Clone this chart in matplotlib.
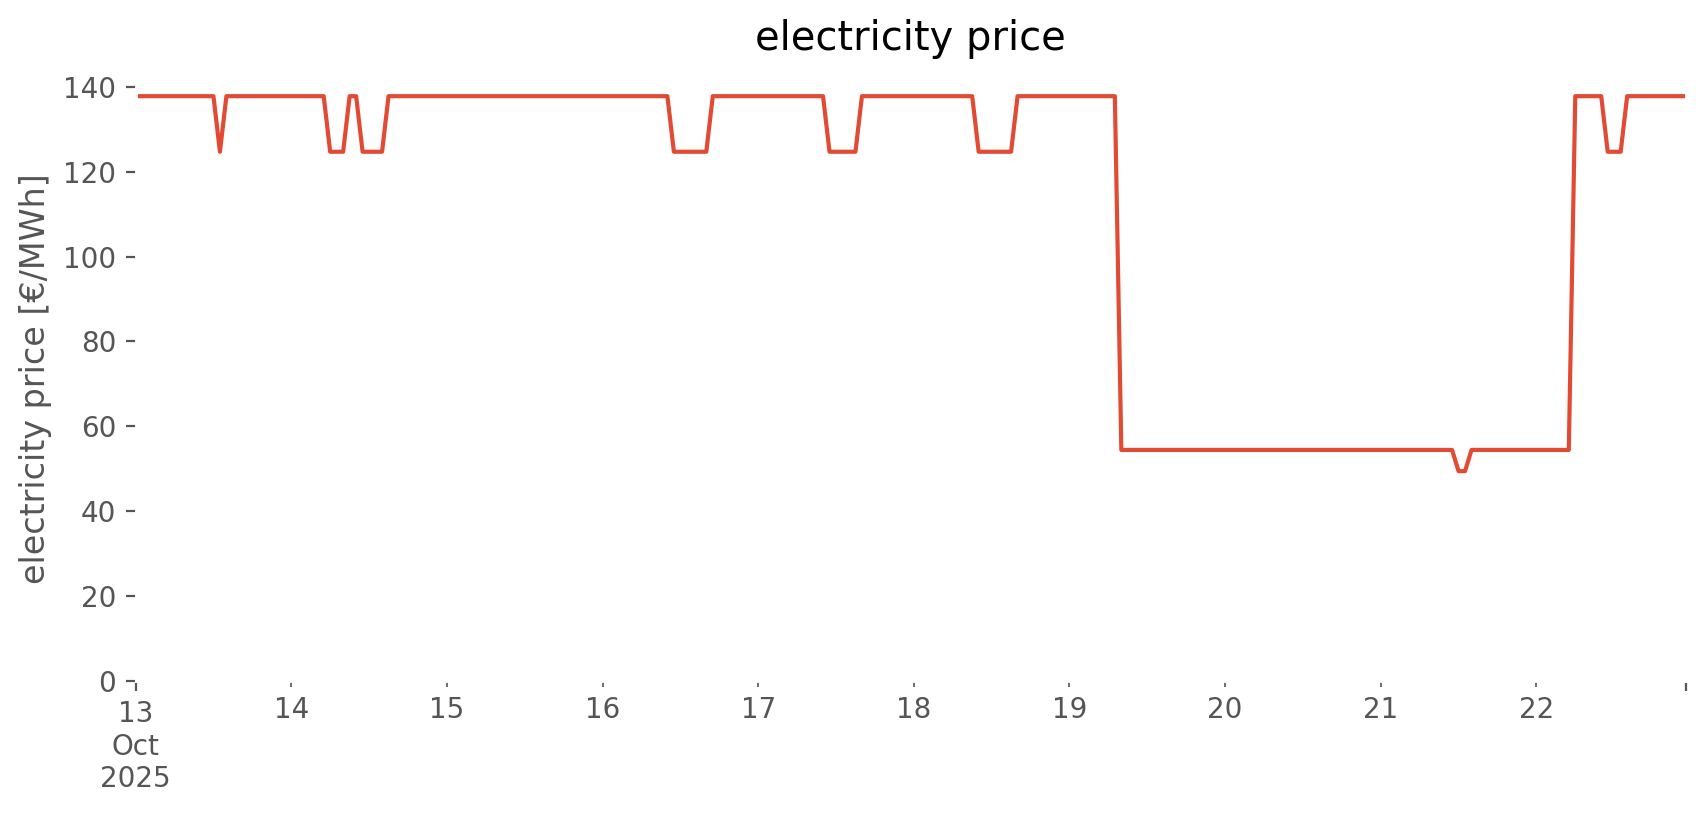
import numpy as np
import pandas as pd
import matplotlib
matplotlib.use("Agg")
import matplotlib.pyplot as plt

# hourly prices (level, number of hours)
start = "2025-10-13 00:00"
price_levels = [137.8, 124.7, 137.8, 124.7, 137.8, 124.7, 137.8, 124.7, 137.8,
                124.7, 137.8, 124.7, 137.8, 54.4, 49.4, 54.4, 137.8, 124.7, 137.8]
hours_at_level = [13, 1, 16, 3, 2, 4, 44, 6, 18,
                  5, 18, 6, 16, 52, 2, 16, 5, 3, 10]

prices = np.repeat(price_levels, hours_at_level)
index = pd.date_range(start, periods=len(prices), freq="h")
price = pd.Series(prices, index=index, name="electricity price")

plt.style.use("ggplot")
plt.rcParams["axes.facecolor"] = "white"

fig = plt.figure(figsize=(1706 / 200, 815 / 200), dpi=200)
ax = fig.add_subplot(111)
fig.subplots_adjust(left=0.0795, right=0.988, bottom=0.1648, top=0.905)

price.plot(ax=ax)
ax.set_ylim(bottom=0)
ax.set_title("electricity price", pad=10)
ax.set_ylabel("electricity price [€/MWh]")
ax.set_xlabel("")
ax.grid(False)

fig.savefig("out.png", dpi=200)
